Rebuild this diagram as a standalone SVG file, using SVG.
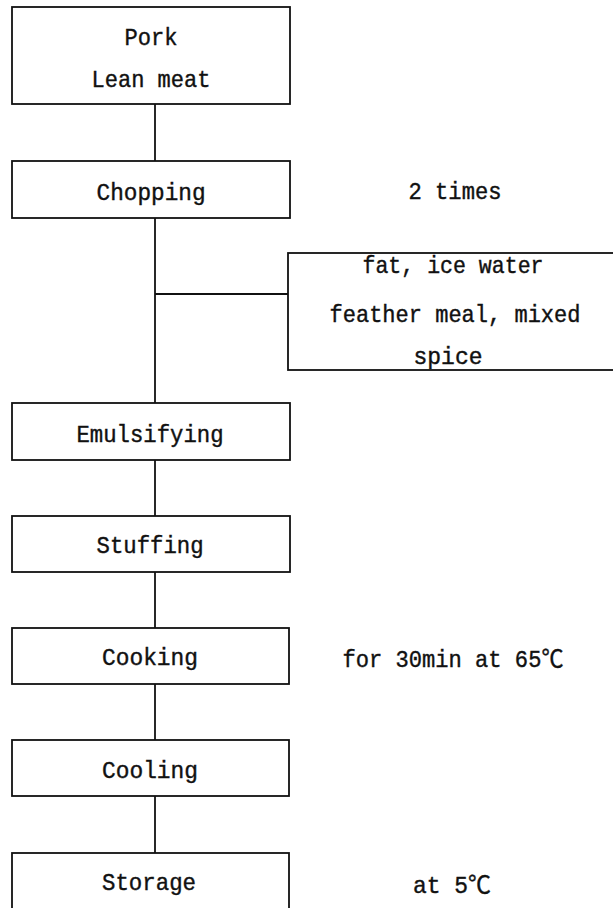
<svg xmlns="http://www.w3.org/2000/svg" width="613" height="908" viewBox="0 0 613 908">
<style>
.b{fill:#fff;stroke:#111;stroke-width:1.8}
.c line{stroke:#111;stroke-width:1.8}
text{font-family:"Liberation Mono","DejaVu Sans Mono","Noto Sans CJK SC",monospace;font-size:24px;fill:#111;stroke:#111;stroke-width:0.4;text-anchor:middle}
</style>
<rect width="613" height="908" fill="#fff"/>
<g class="c" id="connectors">
<line x1="155" y1="104" x2="155" y2="161"/>
<line x1="155" y1="218" x2="155" y2="403"/>
<line x1="155" y1="294" x2="288" y2="294"/>
<line x1="155" y1="460" x2="155" y2="516"/>
<line x1="155" y1="572" x2="155" y2="628"/>
<line x1="155" y1="684" x2="155" y2="740"/>
<line x1="155" y1="796" x2="155" y2="853"/>
</g>
<g id="pork"><rect class="b" x="12" y="7" width="278" height="97"/><text x="151" y="45" textLength="53" lengthAdjust="spacingAndGlyphs">Pork</text><text x="151" y="87" textLength="119" lengthAdjust="spacingAndGlyphs">Lean meat</text></g>
<g id="chopping"><rect class="b" x="12" y="161" width="278" height="57"/><text x="151" y="200" textLength="109" lengthAdjust="spacingAndGlyphs">Chopping</text></g>
<g id="note-chopping"><text x="455" y="199" textLength="93" lengthAdjust="spacingAndGlyphs">2 times</text></g>
<g id="additives"><rect class="b" x="288" y="253" width="332" height="117"/><text x="453" y="273" textLength="181" lengthAdjust="spacingAndGlyphs">fat, ice water</text><text x="455" y="322" textLength="251" lengthAdjust="spacingAndGlyphs">feather meal, mixed</text><text x="448" y="364" textLength="69" lengthAdjust="spacingAndGlyphs">spice</text></g>
<g id="emulsifying"><rect class="b" x="12" y="403" width="278" height="57"/><text x="150" y="442" textLength="147" lengthAdjust="spacingAndGlyphs">Emulsifying</text></g>
<g id="stuffing"><rect class="b" x="12" y="516" width="278" height="56"/><text x="150" y="553" textLength="107" lengthAdjust="spacingAndGlyphs">Stuffing</text></g>
<g id="cooking"><rect class="b" x="12" y="628" width="277" height="56"/><text x="150" y="665" textLength="96" lengthAdjust="spacingAndGlyphs">Cooking</text></g>
<g id="note-cooking"><text x="453" y="667" textLength="221" lengthAdjust="spacingAndGlyphs">for 30min at 65℃</text></g>
<g id="cooling"><rect class="b" x="12" y="740" width="277" height="56"/><text x="150" y="778" textLength="96" lengthAdjust="spacingAndGlyphs">Cooling</text></g>
<g id="storage"><rect class="b" x="12" y="853" width="277" height="70"/><text x="149" y="890" textLength="94" lengthAdjust="spacingAndGlyphs">Storage</text></g>
<g id="note-storage"><text x="452" y="893" textLength="78" lengthAdjust="spacingAndGlyphs">at 5℃</text></g>
</svg>
